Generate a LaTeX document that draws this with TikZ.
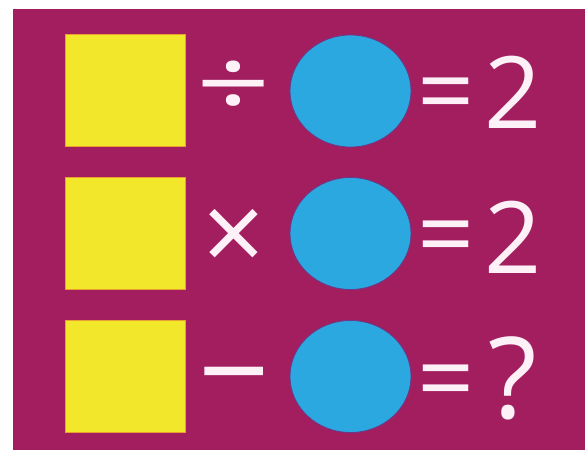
\documentclass[tikz,border=0pt]{standalone}
\usepackage{fontspec}
\setmainfont{Open Sans}
\usetikzlibrary{shapes.geometric}
\definecolor{bgmag}{HTML}{A21E5F}
\definecolor{sqyellow}{HTML}{F3E72B}
\definecolor{sqedge}{HTML}{E8A030}
\definecolor{cblue}{HTML}{2BA8E0}
\definecolor{cedge}{HTML}{6A3A8A}
\definecolor{txt}{HTML}{FDF0F7}
\begin{document}
\begin{tikzpicture}[x=1pt,y=-1pt,
  sq/.style={fill=sqyellow, draw=sqedge, line width=0.8pt, minimum width=120pt, minimum height=112pt, inner sep=0},
  circ/.style={ellipse, fill=cblue, draw=cedge, line width=0.8pt, minimum width=121pt, minimum height=112pt, inner sep=0},
  sym/.style={text=txt, inner sep=0, outer sep=0, anchor=base},
]
\useasboundingbox (0,0) rectangle (585,450);
\fill[white] (0,0) rectangle (585,450);
\fill[bgmag] (13,9) rectangle (585,450);

% row 1
\node[sq] (s1) at (125,90.5) {};
\node[sym, font=\fontsize{130}{130}\selectfont] (op1) at (234,118.5) {\scalebox{1}[0.76]{÷}};
\node[circ] (c1) at (350.5,91) {};
\node[sym, font=\fontsize{100}{100}\selectfont] (eq1) at (446,126) {=};
\node[sym, font=\fontsize{100}{100}\selectfont] (r1) at (513,128) {2};

% row 2
\node[sq] (s2) at (125,233.5) {};
\node[sym, font=\fontsize{110}{110}\selectfont] (op2) at (234,272) {×};
\node[circ] (c2) at (350.5,233.5) {};
\node[sym, font=\fontsize{100}{100}\selectfont] (eq2) at (446,269.5) {=};
\node[sym, font=\fontsize{100}{100}\selectfont] (r2) at (513,273) {2};

% row 3
\node[sq] (s3) at (125,376.5) {};
\node[sym, font=\fontsize{125}{125}\selectfont] (op3) at (234,415) {−};
\node[circ] (c3) at (350.5,376.5) {};
\node[sym, font=\fontsize{100}{100}\selectfont] (eq3) at (446,413) {=};
\node[sym, font=\fontsize{113}{113}\selectfont] (r3) at (512.5,418) {?};
\end{tikzpicture}
\end{document}
